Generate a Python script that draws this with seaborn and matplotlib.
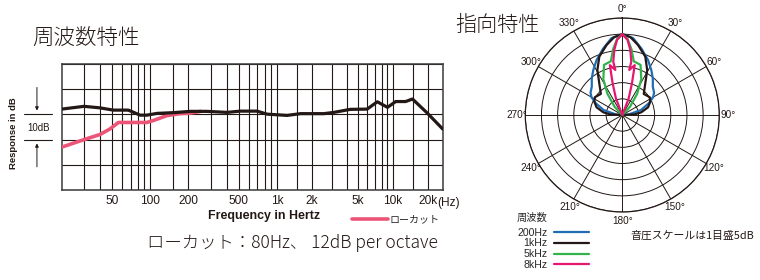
import numpy as np
import matplotlib
matplotlib.use("Agg")
import matplotlib.pyplot as plt
import seaborn as sns

# ---------------- data ----------------
# frequency response (dB, 0 = 3rd gridline from top)
freq_hz = [20, 30, 40, 51, 67, 74, 83, 94, 113, 153, 207, 280, 403, 513, 695, 834,
           1220, 1600, 2540, 3100, 4300, 6000, 7350, 9000, 10600, 12900, 14800, 19900, 27000]
resp_db = [2.1, 3.2, 2.6, 1.7, 1.7, 0.8, -0.3, -0.3, 0.4, 0.7, 1.2, 1.2, 0.8, 1.3, 1.3, 0.1,
           -0.4, 0.3, 0.3, 0.8, 2.0, 2.1, 5.0, 2.8, 5.1, 5.1, 6.1, 0.5, -5.8]
lowcut_hz = [20, 30, 40, 48, 56, 65, 94, 106, 135, 172, 207, 250]
lowcut_db = [-13.0, -10.0, -8.0, -5.8, -3.2, -3.2, -3.2, -2.4, -0.5, 0.3, 0.5, 1.2]

grid_hz = [30, 40, 50, 60, 70, 80, 90, 100, 150, 200, 300, 400, 500, 600, 700, 800, 900,
           1000, 1500, 2000, 3000, 4000, 5000, 6000, 7000, 8000, 9000, 10000, 15000, 20000]
label_hz = [50, 100, 200, 500, 1000, 2000, 5000, 10000, 20000]
label_txt = ["50", "100", "200", "500", "1k", "2k", "5k", "10k", "20k"]

# polar patterns (degrees, dB; outer ring = +5 dB, one ring = 5 dB)
polar_names = ["200Hz", "1kHz", "5kHz", "8kHz"]
polar_colors = ["#1f6db5", "#231815", "#2fb34a", "#e5176e"]
deg_200 = [0, 8, 16, 25, 33, 40, 47, 55, 60, 66, 75, 85, 90, 180,
           270, 275, 285, 294, 300, 305, 313, 320, 327, 335, 344, 352, 360]
db_200 = [0, -1.0, -3.6, -6.2, -8.5, -10.3, -12.1, -13.0, -14.0, -16.0, -19.0, -23.0, -25, -25,
          -25, -23.0, -19.0, -16.0, -14.0, -13.0, -12.1, -10.3, -8.5, -6.2, -3.6, -1.0, 0]
deg_1k = [0, 6, 12.6, 21.5, 29, 36, 45.5, 57, 64.5, 73.4, 82, 87, 92, 180,
          268, 273, 278, 286.6, 295.5, 303, 314.5, 324, 331, 338.5, 347.4, 354, 360]
db_1k = [0, -0.8, -2.8, -5.6, -9.1, -12.9, -15.7, -14.9, -15.4, -16.7, -19.1, -21.2, -25, -25,
         -25, -21.2, -19.1, -16.7, -15.4, -14.9, -15.7, -12.9, -9.1, -5.6, -2.8, -0.8, 0]
deg_5k = [0, 4, 8, 12, 20, 28, 35, 43, 52, 180, 308, 317, 325, 332, 340, 348, 352, 356, 360]
db_5k = [0, -1.5, -4.5, -8.0, -8.5, -12.5, -17.0, -21.5, -25, -25, -25, -21.5, -17.0, -12.5,
         -8.5, -8.0, -4.5, -1.5, 0]
deg_8k = [0, 4, 7, 9.6, 8.8, 14, 17, 21, 26, 180, 334, 339, 343, 346, 351.2, 350.4, 353, 356, 360]
db_8k = [0, -1.7, -4.7, -8.3, -10.9, -9.1, -14.8, -19.5, -25, -25, -25, -19.5, -14.8, -9.1,
         -10.9, -8.3, -4.7, -1.7, 0]
polar_deg = [deg_200, deg_1k, deg_5k, deg_8k]
polar_db = [db_200, db_1k, db_5k, db_8k]
polar_labels = ["0°", "30°", "60°", "90°", "120°", "150°", "180°", "210°", "240°", "270°", "300°", "330°"]

# ---------------- style ----------------
sns.set_theme(style="white")
plt.rcParams["font.family"] = ["Liberation Sans", "Noto Sans CJK JP"]
INK = "#231815"
JP = ["Noto Sans CJK JP", "DejaVu Sans"]
W, H = 760, 280

fig = plt.figure(figsize=(7.6, 2.8), dpi=100)

# ---------------- frequency response ----------------
K = 115.5 / 126.5


def fwd(f):
    l = np.log10(np.clip(np.asarray(f, float), 1e-3, None))
    return np.where(l <= 3, l, 3 + (l - 3) * K)


def inv(y):
    y = np.clip(np.asarray(y, float), -5, 8)
    return np.where(y <= 3, 10 ** y, 10 ** (3 + (y - 3) / K))


ax = fig.add_axes([61.7 / W, (H - 190) / H, 381 / W, 126 / H])
ax.set_xscale("function", functions=(fwd, inv))
sns.lineplot(x=lowcut_hz, y=lowcut_db, ax=ax, color="#ec5577", linewidth=2.6,
             estimator=None, sort=False, label="ローカット", zorder=3)
sns.lineplot(x=freq_hz, y=resp_db, ax=ax, color=INK, linewidth=2.3,
             estimator=None, sort=False, zorder=4)
ax.set_xlim(20, 27000)
ax.set_ylim(-30, 20)
ax.set_xticks(grid_hz)
ax.set_xticklabels([label_txt[label_hz.index(f)] if f in label_hz else "" for f in grid_hz])
ax.xaxis.set_minor_locator(matplotlib.ticker.NullLocator())
ax.set_yticks([-30, -20, -10, 0, 10, 20])
ax.set_yticklabels([])
ax.grid(True, color=INK, linewidth=0.8)
ax.tick_params(axis="both", length=0, labelsize=8.6, pad=3.5, labelcolor=INK)
for s in ax.spines.values():
    s.set_color("#3a3a3a")
    s.set_linewidth(1.1)
ax.set_xlabel("")
ax.set_ylabel("")
ax.get_legend().remove()
ax.annotate("(Hz)", xy=(20000, 0), xycoords=("data", "axes fraction"),
            xytext=(7.0, -9.2), textcoords="offset points", ha="left", va="center",
            fontsize=8.6, color=INK)

# 10dB indicator
tr = matplotlib.transforms.blended_transform_factory(ax.transAxes, ax.transData)
for yv in (0, -10):
    ax.plot([-0.099, -0.0255], [yv, yv], transform=tr, color=INK, lw=0.8, clip_on=False)
ax.annotate("", xy=(-0.065, 0.4), xytext=(-0.065, 11.8), xycoords=tr, textcoords=tr,
            arrowprops=dict(arrowstyle="-|>", color=INK, lw=0.7, mutation_scale=5))
ax.annotate("", xy=(-0.065, -10.4), xytext=(-0.065, -21.9), xycoords=tr, textcoords=tr,
            arrowprops=dict(arrowstyle="-|>", color=INK, lw=0.7, mutation_scale=5))
fig.text(38.5 / W, 1 - 128 / H, "10dB", ha="center", va="center", fontsize=6.9, color=INK)
fig.text(13 / W, 1 - 133 / H, "Response in dB", rotation=90, ha="center", va="center",
         fontsize=6.8, fontweight="bold", color=INK)
fig.text(264 / W, 1 - 216 / H, "Frequency in Hertz", ha="center", va="center",
         fontsize=8.9, fontweight="bold", color=INK)

h_lc = ax.get_lines()[0]
fig.legend([h_lc], ["ローカット"], loc="center left", bbox_to_anchor=(352 / W, 1 - 219 / H),
           bbox_transform=fig.transFigure, frameon=False, borderpad=0, borderaxespad=0,
           handlelength=3.6, handletextpad=0.2, prop={"family": JP, "size": 7.2})

fig.text(32 / W, 1 - 38 / H, "周波数特性", ha="left", va="center", fontsize=15.5,
         family=JP, fontweight="light", color=INK)
fig.text(147 / W, 1 - 243 / H, "ローカット：80Hz、 12dB per octave", ha="left", va="center",
         fontsize=12.5, family=JP, fontweight="light", color=INK)

# ---------------- polar pattern ----------------
R = 97
pax = fig.add_axes([(622.3 - R) / W, (H - 115 - R) / H, 2 * R / W, 2 * R / H], projection="polar")
pax.set_theta_zero_location("N")
pax.set_theta_direction(-1)
handles = []
for name, col, dg, db in zip(polar_names, polar_colors, polar_deg, polar_db):
    sns.lineplot(x=np.deg2rad(dg), y=db, ax=pax, color=col, linewidth=1.6,
                 estimator=None, sort=False, zorder=3)
    handles.append(pax.get_lines()[-1])
pax.set_ylim(-25, 5)
pax.set_yticks([-20, -15, -10, -5, 0, 5])
pax.set_yticklabels([])
pax.set_xticks(np.deg2rad(np.arange(0, 360, 30)))
pax.set_xticklabels(polar_labels)
pax.tick_params(axis="x", labelsize=7.2, pad=-0.7, length=0, labelcolor=INK)
pax.tick_params(axis="y", length=0)
pax.grid(True, color=INK, linewidth=0.7)
pax.spines["polar"].set_color(INK)
pax.spines["polar"].set_linewidth(0.9)
pax.set_xlabel("")
pax.set_ylabel("")
if pax.get_legend() is not None:
    pax.get_legend().remove()

leg = fig.legend(handles, polar_names, title="周波数", loc="upper left",
                 bbox_to_anchor=(517 / W, 1 - 212.5 / H), bbox_transform=fig.transFigure,
                 frameon=False, borderpad=0, borderaxespad=0, markerfirst=False,
                 handlelength=3.4, handletextpad=0.6, labelspacing=0.08, alignment="left",
                 prop={"size": 7.6}, title_fontproperties={"family": JP, "size": 7.4})
leg._legend_box.sep = 0.08 * 7.6 + 3.0

fig.text(455 / W, 1 - 25 / H, "指向特性", ha="left", va="center", fontsize=15.2,
         family=JP, fontweight="light", color=INK)
fig.text(630 / W, 1 - 236 / H, "音圧スケールは1目盛5dB", ha="left", va="center",
         fontsize=7.8, family=JP, color=INK)

fig.savefig("out.png", dpi=100, facecolor="white")
